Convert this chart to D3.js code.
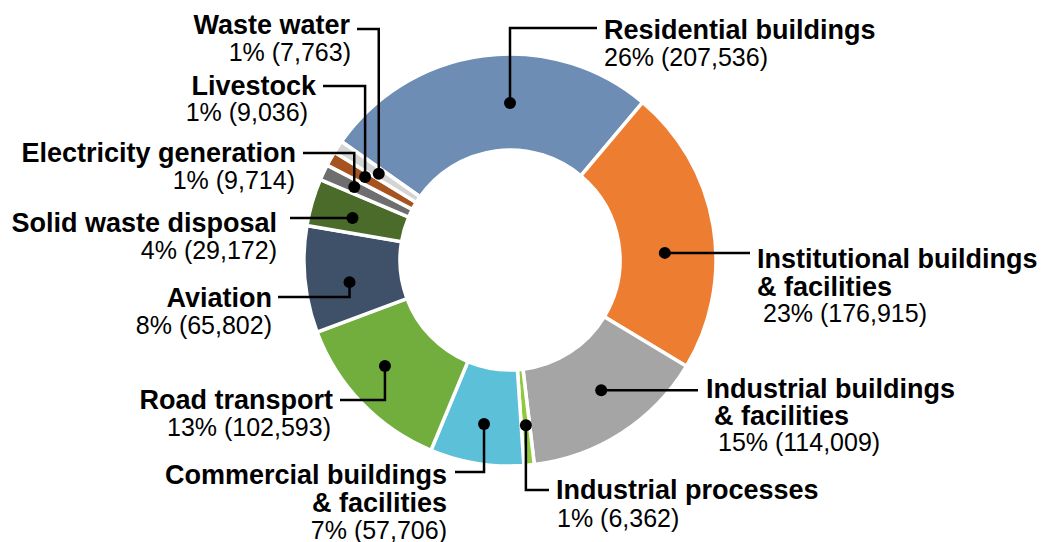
<!DOCTYPE html>
<html>
<head>
<meta charset="utf-8">
<script src="https://cdn.jsdelivr.net/npm/d3@7/dist/d3.min.js"></script>
<style>
  html, body { margin: 0; padding: 0; background: #ffffff; }
  svg { display: block; }
  text { font-family: "Liberation Sans", Arial, Helvetica, sans-serif; fill: #000; }
</style>
</head>
<body>
<svg id="chart" width="1042" height="542"></svg>
<script>
// ---- data ----
const categories = [
  "Residential buildings",
  "Institutional buildings & facilities",
  "Industrial buildings & facilities",
  "Industrial processes",
  "Commercial buildings & facilities",
  "Road transport",
  "Aviation",
  "Solid waste disposal",
  "Electricity generation",
  "Livestock",
  "Waste water"
];
const values = [207536, 176915, 114009, 6362, 57706, 102593, 65802, 29172, 9714, 9036, 7763];
const pctLabels = ["26%", "23%", "15%", "1%", "7%", "13%", "8%", "4%", "1%", "1%", "1%"];
const colors = ["#6e8db5", "#ed7d31", "#a5a5a5", "#92c83e", "#5bc0d8", "#72ae3e",
                "#3f5169", "#4a6b29", "#6e6e6e", "#a6531f", "#d4d4d4"];

// ---- layout (label placement) ----
const layout = [
  {t:0.578, r:157, elbowY:28,  endX:597, anchor:"start", lines:[[604,29],[604,57]]},
  {t:0.584, r:155, elbowY:null,endX:750, anchor:"start", lines:[[757,258],[757,286],[763,313]]},
  {t:0.459, r:159, elbowY:null,endX:698, anchor:"start", lines:[[706,388],[714,415],[718,442]]},
  {t:0.44,  r:166, elbowY:490, endX:549, anchor:"start", lines:[[556,489],[557,518]]},
  {t:0.487, r:166, elbowY:472, endX:455, anchor:"end",   lines:[[447,474],[447,502],[447,530]]},
  {t:0.578, r:164, elbowY:400, endX:340, anchor:"end",   lines:[[333,399],[331,427]]},
  {t:0.42,  r:162, elbowY:297, endX:278, anchor:"end",   lines:[[272,297],[272,325]]},
  {t:0.40,  r:163, elbowY:null,endX:290, anchor:"end",   lines:[[277,222],[277,250]]},
  {t:0.48,  r:172, elbowY:153, endX:303, anchor:"end",   lines:[[296,152],[295,180]]},
  {t:0.58,  r:167, elbowY:86,  endX:323, anchor:"end",   lines:[[316,85],[308,112]]},
  {t:0.49,  r:157, elbowY:29,  endX:357, anchor:"end",   lines:[[350,24],[351,52]]}
];

const cx = 510, cy = 260, outerR = 206, innerR = 110;
const startDeg = -54.9;
const boldSize = 27, regSize = 25;

const svg = d3.select("#chart");
const g = svg.append("g").attr("transform", `translate(${cx},${cy})`);

const data = categories.map((c, i) => ({name: c, value: values[i], i}));
const pie = d3.pie().value(d => d.value).sort(null)
  .startAngle(startDeg * Math.PI / 180)
  .endAngle(startDeg * Math.PI / 180 + 2 * Math.PI);
const arcs = pie(data);
const arc = d3.arc().innerRadius(innerR).outerRadius(outerR);

g.selectAll("path.slice").data(arcs).enter().append("path")
  .attr("class", "slice")
  .attr("d", arc)
  .attr("fill", d => colors[d.data.i])
  .attr("stroke", "#ffffff")
  .attr("stroke-width", 3.5)
  .attr("stroke-linejoin", "miter");

const fmt = d3.format(",");

arcs.forEach((a, i) => {
  const L = layout[i];
  const ang = a.startAngle + (a.endAngle - a.startAngle) * L.t;
  const dx = cx + L.r * Math.sin(ang);
  const dy = cy - L.r * Math.cos(ang);
  let pts = [[dx, dy]];
  if (L.elbowY !== null) {
    pts.push([dx, L.elbowY]);
    pts.push([L.endX, L.elbowY]);
  } else {
    pts.push([L.endX, dy]);
  }
  svg.append("path")
    .attr("d", d3.line()(pts))
    .attr("fill", "none")
    .attr("stroke", "#000")
    .attr("stroke-width", 2.5);
  svg.append("circle").attr("cx", dx).attr("cy", dy).attr("r", 6).attr("fill", "#000");

  const nameParts = categories[i].split(" & ");
  const textLines = nameParts.map((p, k) => ({txt: k > 0 ? "& " + p : p, bold: true}));
  textLines.push({txt: `${pctLabels[i]} (${fmt(values[i])})`, bold: false});
  textLines.forEach((tl, k) => {
    const [tx, ty] = L.lines[k];
    const fs = tl.bold ? boldSize : regSize;
    svg.append("text")
      .attr("x", tx)
      .attr("y", ty + 0.358 * fs)
      .attr("text-anchor", L.anchor)
      .attr("font-size", fs)
      .attr("font-weight", tl.bold ? "bold" : "normal")
      .text(tl.txt);
  });
});
</script>
</body>
</html>
